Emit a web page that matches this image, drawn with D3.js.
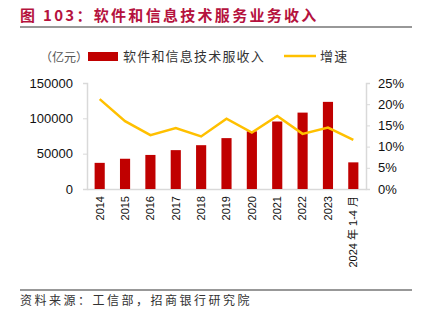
<!DOCTYPE html>
<html>
<head>
<meta charset="utf-8">
<script src="https://cdn.jsdelivr.net/npm/d3@7"></script>
<style>
  body { margin: 0; background: #fff; }
  svg { font-family: "Liberation Sans", Arial, sans-serif; }
</style>
</head>
<body>
<div id="chart"></div>
<script>
var years = ["2014", "2015", "2016", "2017", "2018", "2019", "2020", "2021", "2022", "2023", "2024 年 1-4 月"];
var revenue = [37000, 42800, 48200, 55000, 62000, 72000, 81600, 95500, 108100, 123300, 37700];
var growth = [21.2, 16.0, 12.7, 14.4, 12.4, 16.6, 13.3, 17.2, 13.0, 14.5, 11.6];
var leftTicks = [0, 50000, 100000, 150000];
var rightTicks = [0, 5, 10, 15, 20, 25];

var outerWidth = 424, outerHeight = 324;
var margin = {top: 83, right: 58, bottom: 135, left: 87};
var width = outerWidth - margin.left - margin.right,
    height = outerHeight - margin.top - margin.bottom;

var cjk = "'Noto Sans CJK SC', sans-serif";

var svg = d3.select("#chart").append("svg")
    .attr("width", outerWidth)
    .attr("height", outerHeight);

// title
svg.append("text")
    .attr("x", 20).attr("y", 21)
    .style("font-family", cjk)
    .style("font-size", "15px")
    .style("font-weight", "bold")
    .style("letter-spacing", "2.3px")
    .style("fill", "#b5123e")
    .text("图 103：软件和信息技术服务业务收入");

svg.append("line")
    .attr("x1", 20).attr("x2", 412).attr("y1", 27).attr("y2", 27)
    .style("stroke", "#333").style("stroke-width", 1.2);

// legend
svg.append("text")
    .attr("x", 40).attr("y", 62)
    .style("font-family", cjk).style("font-size", "12px").style("fill", "#555")
    .text("（亿元）");
svg.append("rect")
    .attr("x", 88).attr("y", 52).attr("width", 30).attr("height", 9)
    .style("fill", "#c00000");
svg.append("text")
    .attr("x", 123).attr("y", 61)
    .style("font-family", cjk).style("font-size", "13px").style("fill", "#333")
    .style("letter-spacing", "1.2px")
    .text("软件和信息技术服收入");
svg.append("line")
    .attr("x1", 284).attr("x2", 316).attr("y1", 56).attr("y2", 56)
    .style("stroke", "#ffc000").style("stroke-width", 2.5);
svg.append("text")
    .attr("x", 320).attr("y", 61)
    .style("font-family", cjk).style("font-size", "13px").style("fill", "#333")
    .style("letter-spacing", "1.2px")
    .text("增速");

var g = svg.append("g")
    .attr("transform", "translate(" + margin.left + "," + margin.top + ")");

var x = d3.scaleBand()
    .domain(years)
    .range([0, width])
    .paddingInner(0.6)
    .paddingOuter(0.3);

var y = d3.scaleLinear().domain([0, 150000]).range([height, 0]);
var y2 = d3.scaleLinear().domain([0, 25]).range([height, 0]);

var yAxis = d3.axisLeft(y).tickValues(leftTicks).tickSize(4).tickPadding(10)
    .tickFormat(d3.format("d"));
var y2Axis = d3.axisRight(y2).tickValues(rightTicks).tickSize(4).tickPadding(8)
    .tickFormat(function(d) { return d + "%"; });
var xAxis = d3.axisBottom(x).tickSize(0).tickPadding(6);

var yg = g.append("g").call(yAxis);
var y2g = g.append("g").attr("transform", "translate(" + width + ",0)").call(y2Axis);
var xg = g.append("g").attr("transform", "translate(0," + height + ")").call(xAxis);

[yg, y2g, xg].forEach(function(ax) {
    ax.select(".domain").style("stroke", "#d9d9d9").style("stroke-width", 1.5);
    ax.selectAll(".tick line").style("stroke", "#d9d9d9");
    ax.selectAll("text").style("fill", "#111").style("font-size", "13px");
});
xg.selectAll("text")
    .style("font-size", "11px")
    .style("font-family", "'Liberation Sans', " + cjk)
    .attr("transform", "rotate(-90)")
    .attr("text-anchor", "end")
    .attr("x", -7)
    .attr("y", 0)
    .attr("dy", "0.35em");

g.selectAll(".bar")
    .data(revenue)
    .enter().append("rect")
    .attr("class", "bar")
    .attr("x", function(d, i) { return x(years[i]); })
    .attr("width", x.bandwidth())
    .attr("y", function(d) { return y(d); })
    .attr("height", function(d) { return height - y(d); })
    .style("fill", "#c00000");

var line = d3.line()
    .x(function(d, i) { return x(years[i]) + x.bandwidth() / 2; })
    .y(function(d) { return y2(d); });

g.append("path")
    .attr("d", line(growth))
    .style("fill", "none")
    .style("stroke", "#ffc000")
    .style("stroke-width", 2.5);

// footer
svg.append("line")
    .attr("x1", 20).attr("x2", 412).attr("y1", 290).attr("y2", 290)
    .style("stroke", "#333").style("stroke-width", 1.2);
svg.append("text")
    .attr("x", 20).attr("y", 305)
    .style("font-family", cjk).style("font-size", "12px").style("fill", "#333")
    .style("letter-spacing", "2.5px")
    .text("资料来源：工信部，招商银行研究院");
</script>
</body>
</html>
